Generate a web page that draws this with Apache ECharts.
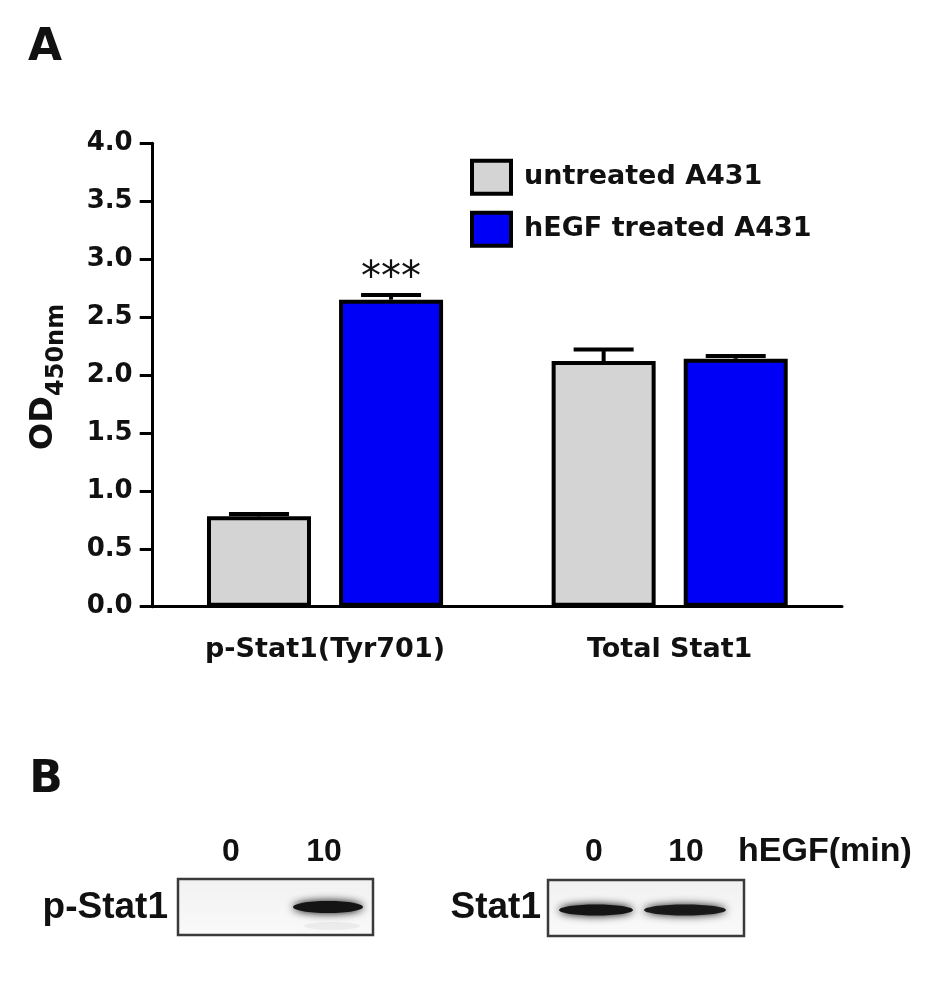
<!DOCTYPE html>
<html>
<head>
<meta charset="utf-8">
<script src="https://cdn.jsdelivr.net/npm/echarts@6/dist/echarts.min.js"></script>
<style>
  html, body { margin: 0; background: #fff; }
  #chart { width: 936px; height: 992px; }
</style>
</head>
<body>
<div id="chart"></div>
<script>
// values
const categories = ['p-Stat1(Tyr701)', 'Total Stat1'];
const seriesNames = ['untreated A431', 'hEGF treated A431'];
const untreatedValues = [0.78, 2.12];
const treatedValues = [2.65, 2.14];
const untreatedErrors = [0.02, 0.10];
const treatedErrors = [0.04, 0.025];
const significance = ['***', ''];   // marks over the treated bars

// western blot panel (B)
const blotLanes = ['0', '10'];
const pStat1Bands = [0, 1];        // relative band intensity per lane
const stat1Bands = [1, 0.95];

const BAR_W = 104;
const BAR_GAP = 0.27;
const BAR_OFFSET = BAR_W * (1 + BAR_GAP) / 2;
const CAP = 30;

const chart = echarts.init(document.getElementById('chart'));

function errorData(values, errors, side) {
  return values.map((v, i) => [i, v, errors[i], side]);
}

function renderErrorBar(params, api) {
  const cat = api.value(0);
  const val = api.value(1);
  const err = api.value(2);
  const side = api.value(3);
  const base = api.coord([cat, val]);
  const top = api.coord([cat, val + err]);
  const x = base[0] + side * BAR_OFFSET;
  const style = { stroke: '#000', lineWidth: 4 };
  return {
    type: 'group',
    children: [
      { type: 'line', shape: { x1: x, y1: base[1], x2: x, y2: top[1] }, style: style },
      { type: 'line', shape: { x1: x - CAP, y1: top[1], x2: x + CAP, y2: top[1] }, style: style }
    ]
  };
}

// blot drawing helpers
function blotBox(x, y, w, h) {
  return {
    type: 'rect',
    shape: { x: x, y: y, width: w, height: h },
    style: {
      fill: new echarts.graphic.LinearGradient(0, 0, 0, 1, [
        { offset: 0, color: '#f1f1f1' },
        { offset: 1, color: '#fafafa' }
      ]),
      stroke: '#3a3a3a',
      lineWidth: 2.5
    }
  };
}

function band(cx, cy, rx, ry, intensity, blur) {
  return {
    type: 'ellipse',
    shape: { cx: cx, cy: cy, rx: rx, ry: ry },
    style: {
      fill: 'rgba(20,20,20,' + intensity + ')',
      shadowBlur: blur,
      shadowColor: 'rgba(0,0,0,' + intensity + ')'
    },
    z: 10
  };
}

function label(text, x, y, font, align) {
  return {
    type: 'text',
    x: x,
    y: y,
    style: { text: text, font: font, fill: '#111', align: align || 'center', verticalAlign: 'middle' },
    z: 10
  };
}

const laneFont = 'bold 32px "Liberation Sans"';
const blotGraphics = [
  blotBox(178, 879, 195, 56),
  blotBox(548, 880, 196, 56)
];
const leftLaneX = [231, 324];
const rightLaneX = [594, 686];
pStat1Bands.forEach((v, i) => {
  if (v > 0) {
    blotGraphics.push(band(leftLaneX[i] + 4, 907, 35, 6, v, 9));
    blotGraphics.push(band(leftLaneX[i] + 8, 926, 28, 4, 0.05 * v, 10));
  }
});
stat1Bands.forEach((v, i) => {
  blotGraphics.push(band(rightLaneX[i] + (i ? -1 : 2), 910, i ? 41 : 37, 5.5, v, 9));
});
blotLanes.forEach((t, i) => {
  blotGraphics.push(label(t, leftLaneX[i], 852, laneFont));
  blotGraphics.push(label(t, rightLaneX[i], 852, laneFont));
});
blotGraphics.push(label('hEGF(min)', 738, 852, 'bold 34px "Liberation Sans"', 'left'));
blotGraphics.push(label('p-Stat1', 168, 908, 'bold 37px "Liberation Sans"', 'right'));
blotGraphics.push(label('Stat1', 541, 908, 'bold 37px "Liberation Sans"', 'right'));

const option = {
  animation: false,
  backgroundColor: '#fff',
  grid: { left: 152.7, right: 94, top: 143.3, bottom: 385.3, containLabel: false },
  legend: {
    orient: 'vertical',
    left: 470,
    top: 158.7,
    padding: 0,
    itemGap: 15,
    itemWidth: 39,
    itemHeight: 33,
    icon: 'rect',
    selectedMode: false,
    itemStyle: { borderColor: '#000', borderWidth: 4 },
    textStyle: {
      fontFamily: 'DejaVu Sans',
      fontWeight: 'bold',
      fontSize: 27,
      color: '#111',
      padding: [0, 0, 0, 8]
    },
    data: seriesNames
  },
  xAxis: {
    type: 'category',
    data: categories,
    axisLine: { lineStyle: { color: '#000', width: 3 } },
    axisTick: { show: false },
    axisLabel: {
      margin: 30,
      fontFamily: 'DejaVu Sans',
      fontWeight: 'bold',
      fontSize: 27,
      color: '#111'
    }
  },
  yAxis: {
    type: 'value',
    min: 0,
    max: 4,
    interval: 0.5,
    splitLine: { show: false },
    axisLine: { show: true, lineStyle: { color: '#000', width: 3 } },
    axisTick: { show: true, length: 13, lineStyle: { color: '#000', width: 3 } },
    axisLabel: {
      margin: 20,
      fontFamily: 'DejaVu Sans',
      fontWeight: 'bold',
      fontSize: 26,
      color: '#111',
      formatter: (v) => v.toFixed(1)
    }
  },
  series: [
    {
      name: seriesNames[0],
      type: 'bar',
      barWidth: BAR_W,
      barGap: (BAR_GAP * 100) + '%',
      itemStyle: { color: '#d4d4d4', borderColor: '#000', borderWidth: 4 },
      data: untreatedValues
    },
    {
      name: seriesNames[1],
      type: 'bar',
      barWidth: BAR_W,
      barGap: (BAR_GAP * 100) + '%',
      itemStyle: { color: '#0000f6', borderColor: '#000', borderWidth: 4 },
      data: treatedValues.map((v, i) => ({
        value: v,
        label: {
          show: significance[i] !== '',
          position: 'top',
          distance: 0,
          formatter: significance[i],
          fontFamily: 'DejaVu Sans',
          fontSize: 40,
          color: '#111'
        }
      }))
    },
    {
      type: 'custom',
      renderItem: renderErrorBar,
      data: errorData(untreatedValues, untreatedErrors, -1),
      z: 5,
      silent: true
    },
    {
      type: 'custom',
      renderItem: renderErrorBar,
      data: errorData(treatedValues, treatedErrors, 1),
      z: 5,
      silent: true
    }
  ],
  graphic: [
    label('A', 45, 49, 'bold 44px "DejaVu Sans"'),
    label('B', 46, 781, 'bold 44px "DejaVu Sans"'),
    {
      type: 'group',
      x: 44,
      y: 375,
      rotation: Math.PI / 2,
      children: [
        { type: 'text', x: -75, y: 0, style: { text: 'OD', font: 'bold 32px "DejaVu Sans"', fill: '#111', align: 'left', verticalAlign: 'middle' } },
        { type: 'text', x: -21, y: 13, style: { text: '450nm', font: 'bold 24px "DejaVu Sans"', fill: '#111', align: 'left', verticalAlign: 'middle' } }
      ]
    }
  ].concat(blotGraphics)
};

chart.setOption(option);
</script>
</body>
</html>
